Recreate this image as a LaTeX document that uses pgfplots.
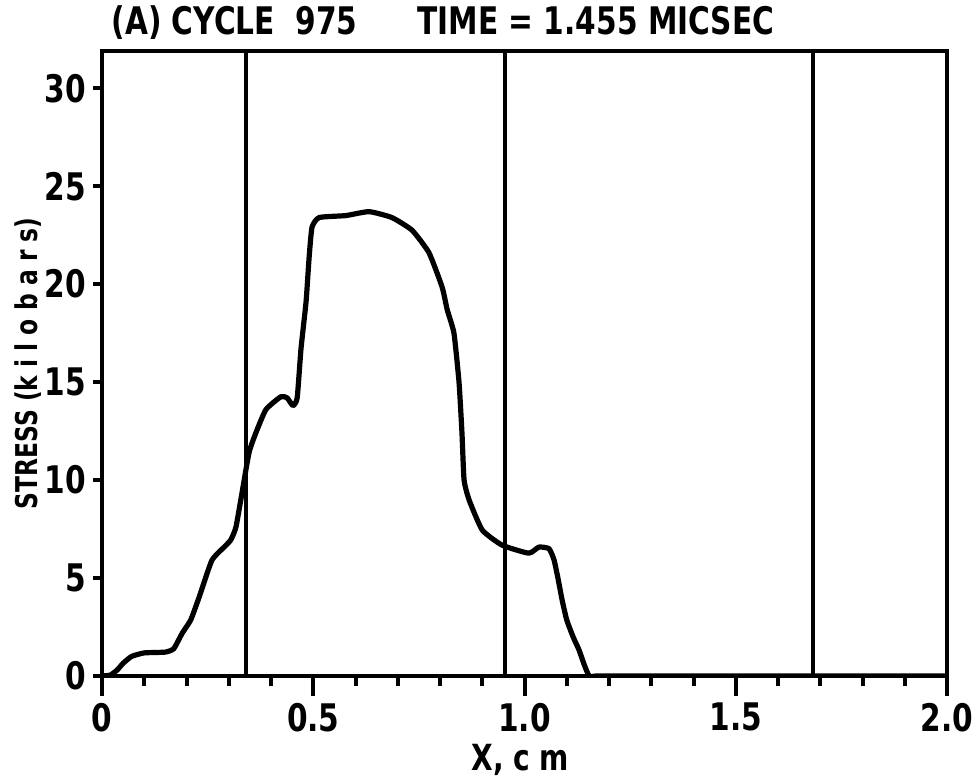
\documentclass[border=0pt]{standalone}
\usepackage{pgfplots}
\pgfplotsset{compat=1.18}
\usepackage{fontspec}
\setmainfont{DejaVu Sans}[FakeStretch=0.78]
\begin{document}
\begin{tikzpicture}
\useasboundingbox (-51pt,-53pt) rectangle (437.5pt,338pt);
\begin{axis}[
  at={(0,0)}, anchor=south west,
  scale only axis, width=422.5pt, height=312.5pt,
  xmin=0, xmax=2, ymin=0, ymax=31.9,
  axis line style={line width=2.2pt},
  xtick=\empty,
  ytick={0,5,10,15,20,25,30},
  ytick pos=left,
  tick align=outside,
  major tick length=4.5pt,
  every tick/.style={line width=2pt, black},
  tick label style={font=\fontsize{19}{22}\selectfont\bfseries},
  /pgf/number format/assume math mode=true,
  title={\fontsize{19}{22}\selectfont\bfseries (A) CYCLE\ \ 975\hspace{30pt}TIME = 1.455 MICSEC},
  every axis title/.style={at={(axis description cs:0.003,1.026)}, anchor=base west},
  xlabel={\fontsize{18}{22}\selectfont\bfseries X, c m},
  xlabel style={at={(axis description cs:0.495,-0.135)}, anchor=center},
  ylabel={\fontsize{15}{18}\selectfont\bfseries STRESS (k i l o b a r s)},
  ylabel style={at={(axis description cs:-0.088,0.5)}, anchor=center},
]
\addplot[line width=2pt, black] coordinates {(0.34,0) (0.34,31.9)};
\addplot[line width=2pt, black] coordinates {(0.955,0) (0.955,31.9)};
\addplot[line width=2pt, black] coordinates {(1.683,0) (1.683,31.9)};
\addplot[line width=2.6pt, black, line join=round, smooth, tension=0.3] coordinates {
(0,0) (0.02,0.05) (0.036,0.31) (0.05,0.65) (0.07,1.0) (0.1,1.18) (0.15,1.22)
(0.17,1.4) (0.19,2.19) (0.21,2.86) (0.23,4.03) (0.26,5.9) (0.29,6.6) (0.305,6.95)
(0.317,7.6) (0.331,9.3) (0.348,11.4) (0.364,12.4) (0.388,13.6) (0.423,14.25)
(0.438,14.2) (0.452,13.8) (0.462,14.2) (0.471,16.7) (0.483,19.1) (0.49,21.3)
(0.497,22.9) (0.514,23.4) (0.577,23.5) (0.632,23.7) (0.686,23.4) (0.734,22.75)
(0.774,21.6) (0.805,19.85) (0.817,18.7) (0.833,17.5) (0.845,15.0) (0.852,12.4)
(0.857,10.0) (0.869,8.98) (0.90,7.45) (0.947,6.68) (1.01,6.27) (1.034,6.58)
(1.058,6.5) (1.07,5.92) (1.08,4.9) (1.089,3.88) (1.10,2.86) (1.115,2.0) (1.129,1.33)
(1.141,0.6) (1.153,0) (1.17,0) (1.2,0) (1.3,0) (1.5,0) (2.0,0)
};
\end{axis}
\begin{axis}[
  at={(0,0)}, anchor=south west,
  scale only axis, width=422.5pt, height=312.5pt,
  xmin=0, xmax=2, ymin=0, ymax=31.9,
  axis line style={draw=none},
  ytick=\empty,
  xtick={0,0.5,1,1.5,2},
  xticklabels={0,0.5,1.0,1.5,2.0},
  minor x tick num=4,
  xtick pos=bottom,
  tick align=outside,
  major tick length=10pt, minor tick length=5pt,
  every tick/.style={line width=2pt, black},
  tick label style={font=\fontsize{19}{22}\selectfont\bfseries},
]
\end{axis}
\end{tikzpicture}
\end{document}
